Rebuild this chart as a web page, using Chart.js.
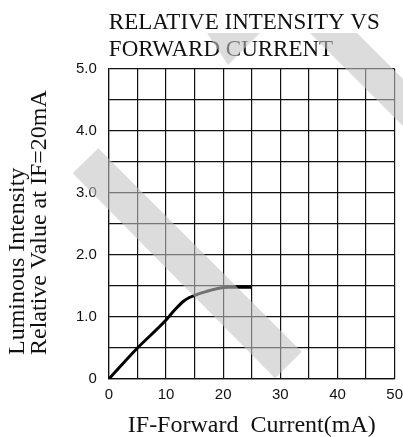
<!DOCTYPE html>
<html>
<head>
<meta charset="utf-8">
<title>Relative Intensity vs Forward Current</title>
<script src="https://cdn.jsdelivr.net/npm/chart.js@4/dist/chart.umd.min.js"></script>
<style>
	body { margin: 0; background: #ffffff; }
	canvas { display: block; }
</style>
</head>
<body>
<canvas id="IntensityChart" width="403" height="437"></canvas>
<script>
//values (forward current in mA, relative intensity)
var forwardCurrent = [0, 5, 10, 11, 12, 13, 14, 15, 17, 19, 21, 23, 25];
var relativeIntensity = [0, 0.5, 0.95, 1.06, 1.16, 1.25, 1.31, 1.35, 1.41, 1.46, 1.48, 1.48, 1.48];

var chartTitle = ["RELATIVE INTENSITY VS", "FORWARD CURRENT"];
var xAxisTitle = "IF-Forward  Current(mA)";
//leading spaces push the rotated title up from the axis bottom like on the sheet
var yAxisTitle = ["    Luminous Intensity", "    Relative Value at IF=20mA"];

var lineBlack = "#111111";
var serifFont = "'Liberation Serif', 'DejaVu Serif', serif";
var tickFont = "'Liberation Sans', Arial, sans-serif";

//the grey diagonal bands printed across the sheet, drawn on top of everything
var greyBands = {
	id: "greyBands",
	afterDraw: function(chart)
	{
		var ctx = chart.ctx;
		ctx.save();
		ctx.fillStyle = "rgba(194,194,194,0.58)";
		var shapes = [
			[[72.7, 173.3], [98.3, 148.3], [301.7, 351.7], [275, 378.3]],
			[[207, 33], [260, 33], [228, 65]],
			[[310, 33], [357, 33], [403, 79], [403, 126]]
		];
		shapes.forEach(function(pts)
		{
			ctx.beginPath();
			ctx.moveTo(pts[0][0], pts[0][1]);
			for (var i = 1; i < pts.length; i++) ctx.lineTo(pts[i][0], pts[i][1]);
			ctx.closePath();
			ctx.fill();
		});
		ctx.restore();
	}
};

function PlotIntensityChart(canvID)
{
	var points = forwardCurrent.map(function(x, i) { return {x: x, y: relativeIntensity[i]}; });

	new Chart(canvID,
	{
		type: "line",
		data:
		{
			datasets: [
			{
				data: points,
				borderColor: "#000000",
				borderWidth: 3,
				pointRadius: 0,
				cubicInterpolationMode: "monotone",
				fill: false
			}]
		},
		options:
		{
			responsive: false,
			animation: false,
			devicePixelRatio: 1,
			layout: { padding: { left: 0, right: 0, top: 0, bottom: 0 } },
			plugins:
			{
				legend: { display: false },
				tooltip: { enabled: false },
				title:
				{
					display: true,
					text: chartTitle,
					align: "start",
					fullSize: false,
					color: lineBlack,
					font: { family: serifFont, size: 23, weight: "normal", lineHeight: 1.174 },
					padding: { top: 9.5, bottom: 5.5 }
				}
			},
			scales:
			{
				x:
				{
					type: "linear",
					min: 0,
					max: 50,
					//invisible tick marks give the label gap without widening the right padding
					grid: { color: lineBlack, lineWidth: 1.2, drawTicks: true, tickLength: 7, tickColor: "rgba(0,0,0,0)" },
					border: { color: lineBlack, width: 1.2 },
					ticks:
					{
						stepSize: 5,
						padding: 0,
						color: lineBlack,
						font: { family: tickFont, size: 15 },
						maxRotation: 0,
						autoSkip: false,
						callback: function(v) { return v % 10 === 0 ? String(v) : ""; }
					},
					title:
					{
						display: true,
						text: xAxisTitle,
						color: lineBlack,
						font: { family: serifFont, size: 24, lineHeight: 0.917 },
						padding: { top: 11, bottom: 0 }
					}
				},
				y:
				{
					min: 0,
					max: 5,
					grid: { color: lineBlack, lineWidth: 1.2, drawTicks: false },
					border: { color: lineBlack, width: 1.2 },
					ticks:
					{
						stepSize: 0.5,
						padding: 12,
						color: lineBlack,
						font: { family: tickFont, size: 15 },
						autoSkip: false,
						callback: function(v)
						{
							if (v === 0) return "0";
							return v % 1 === 0 ? v.toFixed(1) : "";
						}
					},
					title:
					{
						display: true,
						text: yAxisTitle,
						align: "start",
						color: lineBlack,
						font: { family: serifFont, size: 24, lineHeight: 0.917 },
						padding: { top: 7, bottom: 13 }
					}
				}
			}
		},
		plugins: [greyBands]
	});
}

PlotIntensityChart("IntensityChart");
</script>
</body>
</html>
